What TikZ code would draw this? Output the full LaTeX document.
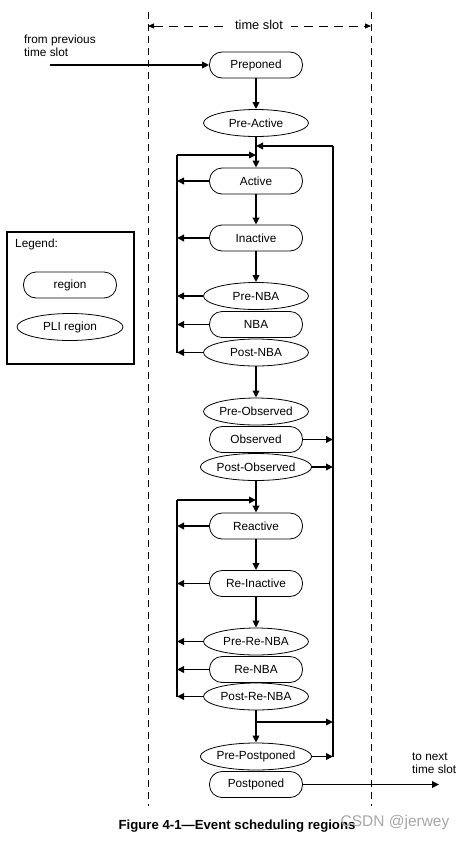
\documentclass[tikz,border=0pt]{standalone}
\usepackage{fontspec}
\setmainfont{Liberation Sans}
\usetikzlibrary{shapes.geometric,arrows.meta}
\begin{document}
\begin{tikzpicture}[x=1pt,y=-1pt,
  font=\fontsize{11.8}{12.5}\selectfont,
  reg/.style={draw,line width=0.8pt,rounded corners=12.5pt,minimum width=93pt,minimum height=26pt,inner sep=0pt},
  pli/.style={draw,line width=0.8pt,ellipse,minimum width=105pt,minimum height=27pt,inner sep=0pt},
  conn/.style={line width=1.8pt},
  arr/.style={line width=1.8pt,-{Triangle[length=7pt,width=6.5pt]}},
  dashline/.style={line width=1pt,dash pattern=on 7pt off 5pt}]
\useasboundingbox (0,0) rectangle (467,841);
% time slot boundaries
\draw[dashline] (148,12) -- (148,806);
\draw[dashline] (371,12) -- (371,806);
\coordinate (tsl) at (148,26);
\coordinate (tsr) at (371,26);
\draw[line width=1pt,dash pattern=on 9pt off 6pt,{Triangle[length=6pt,width=5pt]}-{Triangle[length=6pt,width=5pt]}] (tsl) -- (tsr);
\node[fill=white,inner xsep=8pt,inner ysep=3pt,font=\fontsize{12.8}{13}\selectfont] (ts) at (259,25) {time slot};
% legend
\draw[line width=1.6pt] (7,232) rectangle (134,364);
\node[anchor=west,inner sep=0pt] (leg) at (15,244) {Legend:};
\node[reg] (lreg) at (70,285) {region};
\node[pli,minimum width=106pt] (lpli) at (70,327) {PLI region};
% regions
\node[reg] (prep) at (256,65) {Preponed};
\node[pli] (preact) at (256,123) {Pre-Active};
\node[reg] (active) at (256,181) {Active};
\node[reg] (inactive) at (256,238) {Inactive};
\node[pli] (prenba) at (256,296) {Pre-NBA};
\node[reg] (nba) at (256,324.5) {NBA};
\node[pli] (postnba) at (256,352.5) {Post-NBA};
\node[pli] (preobs) at (256,411.5) {Pre-Observed};
\node[reg] (obs) at (256,439.5) {Observed};
\node[pli] (postobs) at (256,467) {Post-Observed};
\node[reg] (reactive) at (256,526) {Reactive};
\node[reg] (reinactive) at (256,583.5) {Re-Inactive};
\node[pli] (prerenba) at (256,641.5) {Pre-Re-NBA};
\node[reg] (renba) at (256,669.5) {Re-NBA};
\node[pli] (postrenba) at (256,696.5) {Post-Re-NBA};
\node[pli] (prepost) at (256,756.5) {Pre-Postponed};
\node[reg] (postponed) at (256,784.5) {Postponed};
% texts
\node[anchor=west,align=left,inner sep=0pt] (from) at (24,46) {from previous\\time slot};
\node[anchor=west,align=left,inner sep=0pt] (tonext) at (412,763) {to next\\time slot};
\node[font=\bfseries\fontsize{13.2}{14}\selectfont] (cap) at (237,826) {Figure 4-1---Event scheduling regions};
\node[text=black!35,font=\fontsize{15.5}{16}\selectfont] (wm) at (395,822) {CSDN @jerwey};
% coordinates
\coordinate (fromprev) at (50,65);
\coordinate (tonexttip) at (439,784.5);
\coordinate (rtop) at (333,146);
\coordinate (rbot) at (333,756.5);
\coordinate (l1top) at (177,155);
\coordinate (l1bot) at (177,352.5);
\coordinate (l2top) at (177,500);
\coordinate (l2bot) at (177,696.5);
\coordinate (br) at (256,722);
% main flow
\draw[arr] (fromprev) -- (prep.west);
\draw[arr] (prep.south) -- (preact.north);
\draw[arr] (preact.south) -- (active.north);
\draw[arr] (active.south) -- (inactive.north);
\draw[arr] (inactive.south) -- (prenba.north);
\draw[arr] (postnba.south) -- (preobs.north);
\draw[arr] (postobs.south) -- (reactive.north);
\draw[arr] (reactive.south) -- (reinactive.north);
\draw[arr] (reinactive.south) -- (prerenba.north);
\draw[arr] (postrenba.south) -- (prepost.north);
\draw[arr] (postponed.east) -- (tonexttip);
% right loop
\draw[conn] (rbot) -- (rtop);
\draw[arr] (rtop) -- (rtop -| preact.south);
\draw[arr] (obs.east) -- (obs.east -| rtop);
\draw[arr] (postobs.east) -- (postobs.east -| rtop);
\draw[arr] (prepost.east) -- (rbot);
\draw[arr] (br) -- (br -| rtop);
% left loop 1
\draw[conn] (l1bot) -- (l1top);
\draw[arr] (l1top) -- (l1top -| active.north);
\foreach \n in {active,inactive,prenba,nba,postnba}
  \draw[arr] (\n.west) -- (\n.west -| l1top);
% left loop 2
\draw[conn] (l2bot) -- (l2top);
\draw[arr] (l2top) -- (l2top -| reactive.north);
\foreach \n in {reactive,reinactive,prerenba,renba,postrenba}
  \draw[arr] (\n.west) -- (\n.west -| l2top);
\end{tikzpicture}
\end{document}
